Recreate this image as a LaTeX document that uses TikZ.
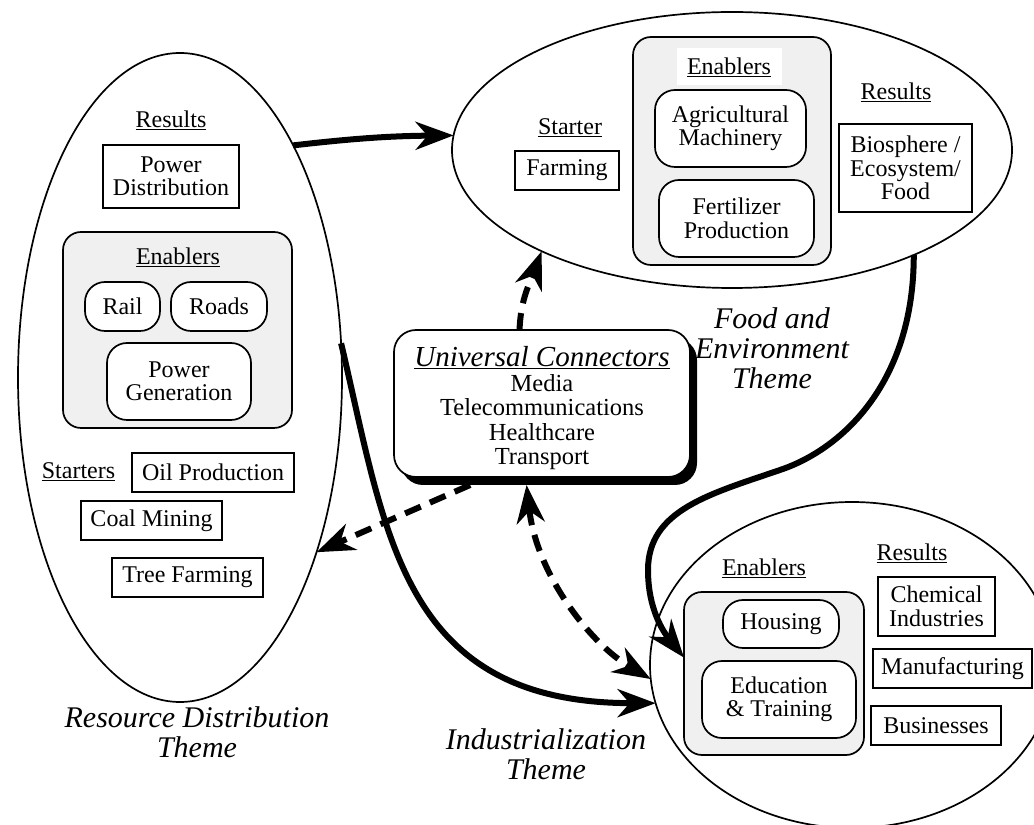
\documentclass[tikz,border=0pt]{standalone}
\usepackage{fontspec}
\setmainfont{Liberation Serif}
\usetikzlibrary{arrows.meta, shapes.geometric}
\definecolor{groupgray}{gray}{0.94}

\begin{document}
\begin{tikzpicture}[x=1pt, y=1pt,
  wh/.style 2 args={minimum width=#1pt, minimum height=#2pt},
  zone/.style={ellipse, draw, line width=1.7pt, inner sep=0pt, outer sep=0pt},
  grp/.style={draw, line width=1.7pt, fill=groupgray, rounded corners=18pt, inner sep=0pt, outer sep=0pt},
  sq/.style={draw, line width=1.7pt, fill=white, align=center, inner sep=0pt, outer sep=0pt, font=\fontsize{24}{23.5}\selectfont},
  rnd/.style={sq, rounded corners=20pt},
  lbl/.style={inner sep=0pt, font=\fontsize{24}{24}\selectfont},
  theme/.style={align=center, inner sep=0pt, font=\fontsize{30}{30}\selectfont\itshape},
  headed/.style={-{Stealth[length=38pt, width=28pt, inset=12pt]}},
  twoheaded/.style={{Stealth[length=38pt, width=28pt, inset=12pt]}-{Stealth[length=38pt, width=28pt, inset=12pt]}},
  mainflow/.style={line width=6pt, headed},
  dashlink/.style={line width=6pt, dash pattern=on 17pt off 10pt},
]
\path[use as bounding box, clip] (0,0) rectangle (1034,825);

% the three theme zones
\node[zone, wh={324}{649}] (L) at (180,447.5) {};
\node[zone, wh={560}{276}] (T) at (732,675) {};
\node[zone, wh={404}{326}] (B) at (852,160) {};

% resource distribution
\node[lbl] (lres) at (171,705) {\underline{Results}};
\node[sq, wh={136}{63}] (pdist) at (171,648.5) {Power\\Distribution};
\node[grp, wh={229}{196}] (lgrp) at (177.5,495) {};
\node[lbl] (lena) at (178,568) {\underline{Enablers}};
\node[rnd, wh={75}{49}] (rail) at (122.5,518.5) {Rail};
\node[rnd, wh={96}{49}] (roads) at (219,518.5) {Roads};
\node[rnd, wh={144}{77}] (pgen) at (179,443.5) {Power\\Generation};
\node[lbl] (lsta) at (78.5,353) {\underline{Starters}};
\node[sq, wh={162}{39}] (oil) at (213,352.5) {Oil Production};
\node[sq, wh={141}{39}] (coal) at (151.5,304.5) {Coal Mining};
\node[sq, wh={151}{39}] (tree) at (187.5,247.5) {Tree Farming};

% food and environment
\node[grp, wh={198}{228}] (tgrp) at (732,674) {};
\node[lbl, fill=white, wh={105}{37}] (tena) at (729,758) {\underline{Enablers}};
\node[rnd, wh={151}{77}] (agri) at (730.5,696.5) {Agricultural\\Machinery};
\node[rnd, wh={155}{77}] (fert) at (736.5,606.5) {Fertilizer\\Production};
\node[lbl] (tsta) at (570,697) {\underline{Starter}};
\node[sq, wh={104}{39}] (farm) at (567,654.5) {Farming};
\node[lbl] (tres) at (896,733) {\underline{Results}};
\node[sq, wh={133}{88}] (bio) at (905.5,657) {Biosphere /\\Ecosystem/\\Food};

% industrialization
\node[grp, wh={180}{163}] (bgrp) at (774,151.5) {};
\node[lbl] (bena) at (764,257) {\underline{Enablers}};
\node[rnd, wh={116}{48}] (house) at (781,201) {Housing};
\node[rnd, wh={154}{77}] (edu) at (779,125.5) {Education\\\& Training};
\node[lbl] (bres) at (912,272) {\underline{Results}};
\node[sq, wh={117}{59}] (chem) at (936.5,218.5) {Chemical\\Industries};
\node[sq, wh={159}{39}] (manu) at (952.5,156.5) {Manufacturing};
\node[sq, wh={130}{39}] (biz) at (936,99.5) {Businesses};

% theme captions
\node[theme] (fet) at (772,477) {Food and\\Environment\\Theme};
\node[theme] (rdt) at (197,93) {Resource Distribution\\Theme};
\node[theme] (ist) at (546,71) {Industrialization\\Theme};

% universal connectors box with its drop shadow
\node[fill=black, rounded corners=22pt, wh={296}{147}, inner sep=0pt, outer sep=0pt] (ucs) at (549,413.5) {};
\node[draw, line width=1.7pt, fill=white, rounded corners=22pt, wh={296}{147}, inner sep=0pt, outer sep=0pt] (uc) at (542,421.5) {};
\node[align=center, inner sep=0pt, font=\fontsize{24.5}{24.5}\selectfont] (uctext) at (542,416.5)
  {{\fontsize{29}{29}\selectfont\itshape\underline{Universal Connectors}}\\Media\\Telecommunications\\Healthcare\\Transport};

% main flows between the themes
\coordinate (swingA) at (780,355);
\coordinate (swingB) at (648,255);
\draw[mainflow] (L.64) to[bend left=3] (T.177);
\draw[mainflow] (T.-30) .. controls +(0,-130) and +(60,20) .. (swingA)
  .. controls +(-70,-24) and +(0,60) .. (swingB)
  .. controls +(0,-40) and +(-20,25) .. (bgrp.170);
\draw[mainflow] (L.12) .. controls +(45,-190) and +(-255,0) .. (B.191);

% dashed links from the universal connectors
\draw[dashlink, headed] (uc.107) to[out=88, in=-110] (T.208);
\draw[dashlink, headed] (ucs.223) -- (L.-52);
\draw[dashlink, twoheaded] (ucs.253) .. controls +(10,-90) and +(-60,35) .. (B.184);
\end{tikzpicture}
\end{document}
